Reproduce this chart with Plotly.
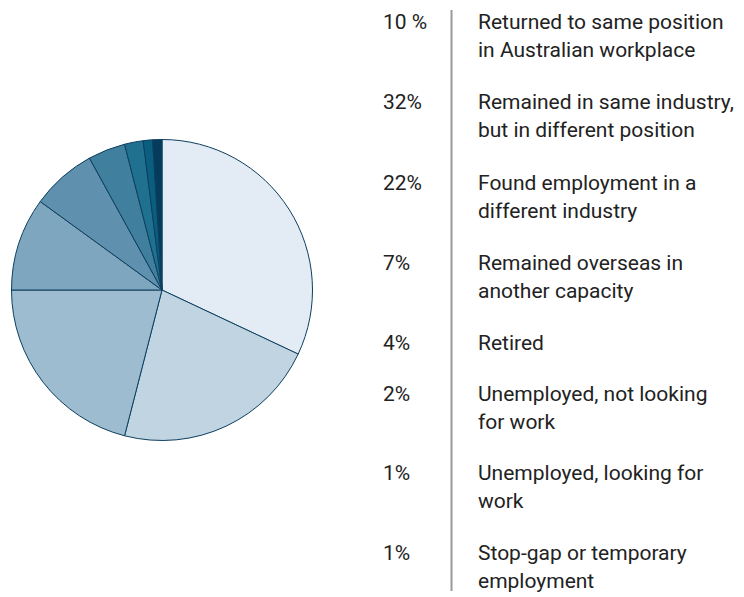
import plotly.graph_objects as go

# ---- data ----
pie_values = [32, 22, 21, 10, 7, 4, 2, 1, 1]
pie_colors = ["#e3ecf4", "#c0d4e1", "#9dbcd0", "#7fa6bf", "#5f90ad",
              "#417f9f", "#20708f", "#0a5f80", "#053c5c"]
legend_pcts = ["10 %", "32%", "22%", "7%", "4%", "2%", "1%", "1%"]
legend_labels = [
    "Returned to same position<br>in Australian workplace",
    "Remained in same industry,<br>but in different position",
    "Found employment in a<br>different industry",
    "Remained overseas in<br>another capacity",
    "Retired",
    "Unemployed, not looking<br>for work",
    "Unemployed, looking for<br>work",
    "Stop-gap or temporary<br>employment",
]

# ---- layout constants (pixels, screen coords; page has 8px body margin) ----
W, H = 744, 597
OFF = 8
row_y = [22, 102, 183, 263, 343, 394, 473, 553]
line_gap = 28
pct_x = 381
label_x = 476
sep_x = 451.5
FONT = "Roboto"
FS = 21
TXT = "#222222"


def px(x):
    return (x - OFF) / W


def py(y):
    return 1 - (y - OFF) / H


fig = go.Figure()
cx, cy, r = 162, 290, 150.5
fig.add_trace(go.Pie(
    values=pie_values,
    sort=False,
    direction="clockwise",
    rotation=0,
    marker=dict(colors=pie_colors, line=dict(color="#0d3f5f", width=1)),
    textinfo="none",
    hoverinfo="value",
    showlegend=False,
    domain=dict(x=[px(cx - r), px(cx + r)],
                y=[py(cy + r), py(cy - r)]),
))

annotations = []
for pct, lab, y in zip(legend_pcts, legend_labels, row_y):
    annotations.append(dict(x=px(pct_x), y=py(y), xref="paper", yref="paper",
                            text=pct, showarrow=False, xanchor="left", yanchor="middle",
                            font=dict(family=FONT, size=FS, color=TXT)))
    for i, line in enumerate(lab.split("<br>")):
        annotations.append(dict(x=px(label_x), y=py(y + i * line_gap),
                                xref="paper", yref="paper",
                                text=line, showarrow=False, xanchor="left", yanchor="middle",
                                font=dict(family=FONT, size=FS, color=TXT)))

fig.update_layout(
    width=W, height=H,
    margin=dict(l=0, r=0, t=0, b=0),
    paper_bgcolor="white", plot_bgcolor="white",
    annotations=annotations,
    shapes=[dict(type="line", xref="paper", yref="paper",
                 x0=px(sep_x), x1=px(sep_x), y0=py(10), y1=py(591),
                 line=dict(color="#9a9a9a", width=2))],
)

fig.write_html("out.html")
